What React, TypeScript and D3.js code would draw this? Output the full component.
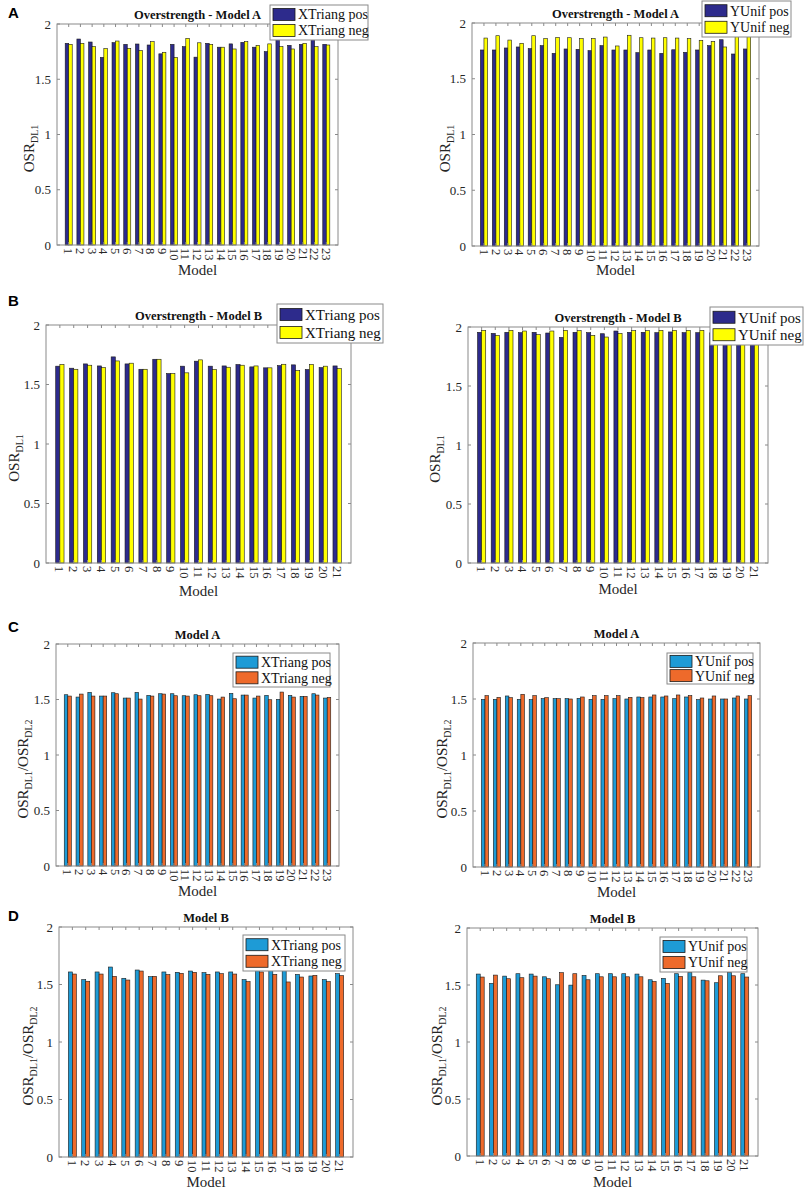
import React from 'react';
import * as d3 from 'd3';

// Overstrength, Model A (23 models)
const aXPos = [1.825, 1.864, 1.837, 1.698, 1.831, 1.816, 1.819, 1.81, 1.73, 1.816, 1.795, 1.70, 1.825, 1.79, 1.82, 1.834, 1.79, 1.75, 1.87, 1.807, 1.816, 1.87, 1.816];
const aXNeg = [1.816, 1.825, 1.795, 1.777, 1.846, 1.78, 1.759, 1.84, 1.744, 1.698, 1.87, 1.83, 1.816, 1.79, 1.774, 1.84, 1.807, 1.82, 1.795, 1.774, 1.825, 1.795, 1.81];
const aYPos = [1.758, 1.758, 1.776, 1.785, 1.77, 1.797, 1.728, 1.767, 1.764, 1.752, 1.797, 1.758, 1.758, 1.734, 1.758, 1.728, 1.76, 1.737, 1.758, 1.797, 1.85, 1.722, 1.767];
const aYNeg = [1.865, 1.886, 1.847, 1.818, 1.886, 1.86, 1.87, 1.868, 1.86, 1.86, 1.874, 1.794, 1.89, 1.868, 1.865, 1.868, 1.865, 1.86, 1.845, 1.835, 1.785, 1.88, 1.88];

// Overstrength, Model B (21 models)
const bXPos = [1.654, 1.637, 1.673, 1.656, 1.732, 1.673, 1.628, 1.712, 1.592, 1.654, 1.696, 1.654, 1.656, 1.668, 1.648, 1.64, 1.659, 1.665, 1.626, 1.642, 1.656];
const bXNeg = [1.668, 1.628, 1.662, 1.642, 1.698, 1.679, 1.628, 1.712, 1.592, 1.598, 1.707, 1.626, 1.645, 1.662, 1.656, 1.64, 1.67, 1.617, 1.668, 1.654, 1.634];
const bYPos = [1.955, 1.946, 1.955, 1.952, 1.955, 1.949, 1.912, 1.955, 1.952, 1.943, 1.966, 1.955, 1.955, 1.952, 1.958, 1.952, 1.952, 1.95, 1.95, 1.95, 1.95];
const bYNeg = [1.972, 1.929, 1.972, 1.966, 1.935, 1.966, 1.972, 1.969, 1.929, 1.915, 1.946, 1.969, 1.969, 1.972, 1.972, 1.972, 1.972, 1.97, 1.97, 1.97, 1.97];

// OSR_DL1 / OSR_DL2, Model A
const cXPos = [1.543, 1.522, 1.564, 1.531, 1.561, 1.513, 1.564, 1.537, 1.552, 1.552, 1.534, 1.543, 1.546, 1.504, 1.555, 1.54, 1.513, 1.537, 1.501, 1.537, 1.528, 1.552, 1.513];
const cXNeg = [1.531, 1.549, 1.531, 1.531, 1.552, 1.513, 1.504, 1.531, 1.549, 1.534, 1.531, 1.534, 1.534, 1.522, 1.507, 1.54, 1.531, 1.498, 1.567, 1.522, 1.528, 1.54, 1.519];
const cYPos = [1.497, 1.497, 1.527, 1.497, 1.494, 1.503, 1.503, 1.503, 1.506, 1.497, 1.497, 1.503, 1.5, 1.518, 1.518, 1.518, 1.503, 1.518, 1.494, 1.5, 1.5, 1.509, 1.5];
const cYNeg = [1.53, 1.515, 1.512, 1.542, 1.53, 1.512, 1.503, 1.5, 1.518, 1.53, 1.53, 1.53, 1.515, 1.512, 1.536, 1.527, 1.536, 1.53, 1.509, 1.527, 1.5, 1.527, 1.53];

// OSR_DL1 / OSR_DL2, Model B
const dXPos = [1.609, 1.542, 1.609, 1.652, 1.554, 1.626, 1.568, 1.609, 1.606, 1.617, 1.603, 1.609, 1.609, 1.542, 1.62, 1.62, 1.62, 1.588, 1.574, 1.542, 1.594];
const dXNeg = [1.591, 1.528, 1.591, 1.571, 1.539, 1.617, 1.571, 1.586, 1.597, 1.606, 1.588, 1.594, 1.591, 1.525, 1.609, 1.588, 1.522, 1.565, 1.58, 1.525, 1.577];
const dYPos = [1.596, 1.514, 1.578, 1.599, 1.596, 1.572, 1.502, 1.499, 1.584, 1.599, 1.599, 1.599, 1.596, 1.546, 1.558, 1.599, 1.61, 1.543, 1.52, 1.61, 1.599];
const dYNeg = [1.57, 1.587, 1.555, 1.564, 1.578, 1.555, 1.608, 1.599, 1.546, 1.572, 1.572, 1.572, 1.572, 1.531, 1.514, 1.575, 1.572, 1.537, 1.581, 1.581, 1.57];

const yTicks = [0, 0.5, 1, 1.5, 2];
const yTickLabels = ['0', '0.5', '1', '1.5', '2'];

const NAVY = '#2d2b8c';
const YELLOW = '#ffff00';
const BLUE = '#1e9bd6';
const ORANGE = '#ee6a2b';
const SERIF = '"Liberation Serif", "Times New Roman", serif';

const panels = [
  { title: 'Overstrength - Model A', names: ['XTriang pos', 'XTriang neg'], pos: aXPos, neg: aXNeg, colors: [NAVY, YELLOW], ratio: false,
    box: [57, 24, 338, 245], legend: [270, 5, 98, 35], lfs: 14, ylx: 34, modelY: 275 },
  { title: 'Overstrength - Model A', names: ['YUnif pos', 'YUnif neg'], pos: aYPos, neg: aYNeg, colors: [NAVY, YELLOW], ratio: false,
    box: [472, 23, 759, 246], legend: [702, 1, 89, 36], lfs: 14, ylx: 450, modelY: 275 },
  { title: 'Overstrength - Model B', names: ['XTriang pos', 'XTriang neg'], pos: bXPos, neg: bXNeg, colors: [NAVY, YELLOW], ratio: false,
    box: [46, 325, 351, 563], legend: [277, 304, 106, 39], lfs: 15, ylx: 19, modelY: 596 },
  { title: 'Overstrength - Model B', names: ['YUnif pos', 'YUnif neg'], pos: bYPos, neg: bYNeg, colors: [NAVY, YELLOW], ratio: false,
    box: [468, 327, 768, 563], legend: [710, 307, 93, 38], lfs: 15, ylx: 440, modelY: 594 },
  { title: 'Model A', names: ['XTriang pos', 'XTriang neg'], pos: cXPos, neg: cXNeg, colors: [BLUE, ORANGE], ratio: true,
    box: [56, 644, 339, 866], legend: [233, 653, 97, 34], lfs: 14, ylx: 28, modelY: 896 },
  { title: 'Model A', names: ['YUnif pos', 'YUnif neg'], pos: cYPos, neg: cYNeg, colors: [BLUE, ORANGE], ratio: true,
    box: [473, 643, 760, 867], legend: [667, 653, 86, 31], lfs: 14, ylx: 447, modelY: 897 },
  { title: 'Model B', names: ['XTriang pos', 'XTriang neg'], pos: dXPos, neg: dXNeg, colors: [BLUE, ORANGE], ratio: true,
    box: [59, 927, 353, 1157], legend: [243, 935, 102, 36], lfs: 14, ylx: 33, modelY: 1187 },
  { title: 'Model B', names: ['YUnif pos', 'YUnif neg'], pos: dYPos, neg: dYNeg, colors: [BLUE, ORANGE], ratio: true,
    box: [467, 928, 758, 1156], legend: [660, 937, 87, 35], lfs: 14, ylx: 442, modelY: 1187 },
];

const letters = [
  { t: 'A', y: 18 }, { t: 'B', y: 306 }, { t: 'C', y: 632 }, { t: 'D', y: 921 },
];

function Panel({ p }: { p: any }) {
  const [l, t, r, b] = p.box;
  const n = p.pos.length;
  const x = d3.scaleLinear().domain([0, n + 1]).range([l, r]);
  const y = d3.scaleLinear().domain([0, 2]).range([b, t]);
  const cats = d3.range(1, n + 1);
  const bw = 0.3;
  const tick = 3;
  const axis = '#8a8a8a';
  const [lx, ly, lw, lh] = p.legend;
  const midY = (t + b) / 2 + 14;

  return (
    <g>
      {/* bars */}
      {cats.map((c, i) => (
        <g key={c}>
          <rect x={x(c - bw)} y={y(p.pos[i])} width={x(bw) - x(0)} height={y(0) - y(p.pos[i])}
            fill={p.colors[0]} stroke="#1a1a1a" strokeWidth={0.6} />
          <rect x={x(c)} y={y(p.neg[i])} width={x(bw) - x(0)} height={y(0) - y(p.neg[i])}
            fill={p.colors[1]} stroke="#1a1a1a" strokeWidth={0.6} />
        </g>
      ))}

      {/* box + ticks */}
      <rect x={l} y={t} width={r - l} height={b - t} fill="none" stroke={axis} strokeWidth={1} />
      {yTicks.map((v) => (
        <g key={v}>
          <line x1={l} x2={l + tick} y1={y(v)} y2={y(v)} stroke={axis} />
          <line x1={r} x2={r - tick} y1={y(v)} y2={y(v)} stroke={axis} />
        </g>
      ))}
      {cats.map((c) => (
        <g key={c}>
          <line x1={x(c)} x2={x(c)} y1={t} y2={t + tick} stroke={axis} />
          <line x1={x(c)} x2={x(c)} y1={b} y2={b - tick} stroke={axis} />
        </g>
      ))}

      {/* tick labels */}
      {yTicks.map((v, i) => (
        <text key={v} x={l - 6} y={y(v)} dy="0.35em" textAnchor="end" fontSize={13} fill="#262626">{yTickLabels[i]}</text>
      ))}
      {cats.map((c) => (
        <text key={c} transform={`translate(${x(c)},${b + 3}) rotate(90)`} dy="0.35em" textAnchor="start"
          fontSize={12.5} fill="#262626">{c}</text>
      ))}

      {/* titles */}
      <text x={(l + r) / 2} y={t - 5} textAnchor="middle" fontSize={12.5} fontWeight="bold" fill="#111">{p.title}</text>
      <text x={(l + r) / 2} y={p.modelY} textAnchor="middle" fontSize={15} fill="#262626">Model</text>
      <text transform={`translate(${p.ylx},${midY}) rotate(-90)`} textAnchor="middle" fontSize={15} fill="#262626">
        OSR<tspan dy={4} fontSize={10}>DL1</tspan>
        {p.ratio ? (
          <>
            <tspan dy={-4}>/OSR</tspan>
            <tspan dy={4} fontSize={10}>DL2</tspan>
          </>
        ) : null}
      </text>

      {/* legend */}
      <rect x={lx} y={ly} width={lw} height={lh} fill="#fff" stroke={axis} strokeWidth={1} />
      {p.names.map((nm: string, i: number) => {
        const cy = ly + lh * (i === 0 ? 0.27 : 0.73);
        return (
          <g key={nm}>
            <rect x={lx + 3} y={cy - 6} width={22} height={12} fill={p.colors[i]} stroke="#1a1a1a" strokeWidth={0.8} />
            <text x={lx + 28} y={cy} dy="0.35em" fontSize={p.lfs} fill="#111">{nm}</text>
          </g>
        );
      })}
    </g>
  );
}

export default function App() {
  return (
    <svg width={804} height={1190} viewBox="0 0 804 1190"
      style={{ position: 'absolute', left: 0, top: 0, background: '#fff', fontFamily: SERIF }}>
      <rect width={804} height={1190} fill="#fff" />
      {letters.map((lt) => (
        <text key={lt.t} x={8} y={lt.y} fontSize={15} fontWeight="bold"
          fontFamily='"Liberation Sans", Arial, sans-serif' fill="#000">{lt.t}</text>
      ))}
      {panels.map((p, i) => <Panel key={i} p={p} />)}
    </svg>
  );
}
